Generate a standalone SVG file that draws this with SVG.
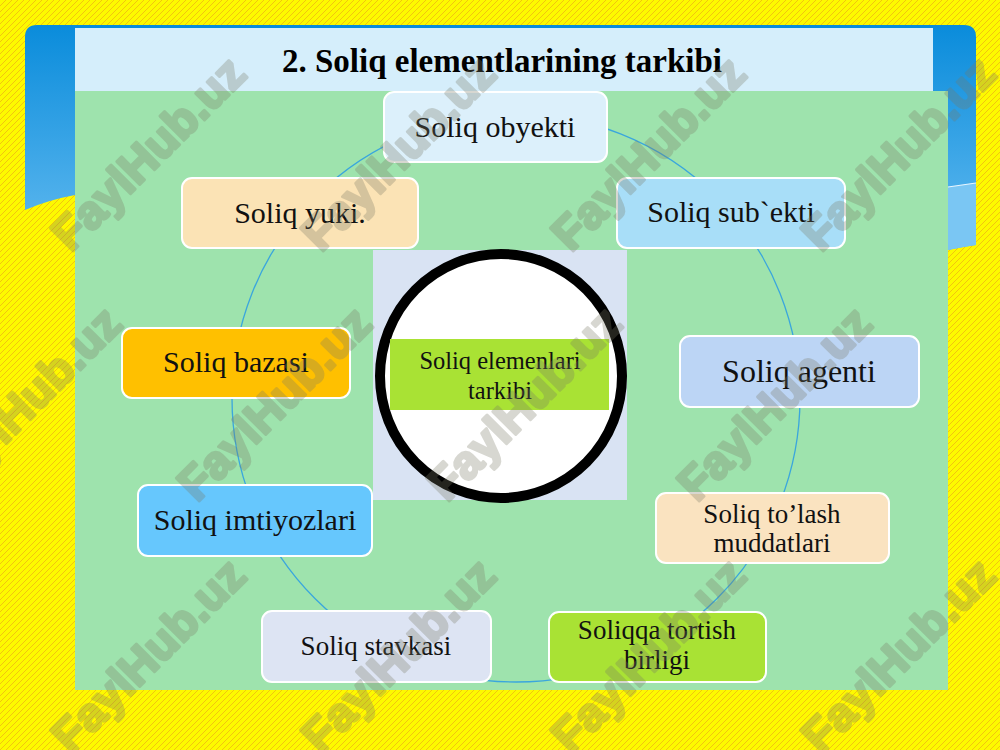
<svg xmlns="http://www.w3.org/2000/svg" width="1000" height="750" viewBox="0 0 1000 750">
<defs>
<pattern id="stripes" width="6" height="6" patternUnits="userSpaceOnUse">
<rect width="6" height="6" fill="#fdf900"/>
<path d="M-1,1 L1,-1 M0,6 L6,0 M5,7 L7,5" stroke="#e8901c" stroke-width="0.6" opacity="0.85"/>
</pattern>
<linearGradient id="blueGrad" x1="0" y1="0" x2="0" y2="1">
<stop offset="0" stop-color="#0a8cdb"/>
<stop offset="1" stop-color="#62baf0"/>
</linearGradient>
<style>
.node rect{stroke:#ffffff;stroke-width:2}
.lbl{font-family:"Liberation Serif","Times New Roman",serif;fill:#111111;text-anchor:middle}
.wm{font-family:"Liberation Sans",Arial,sans-serif;font-weight:bold;font-size:47px;fill:#7a7a66;stroke:#7a7a66;stroke-width:3;stroke-linejoin:round;text-anchor:middle;dominant-baseline:central}
</style>
</defs>

<!-- background -->
<rect x="0" y="0" width="1000" height="750" fill="url(#stripes)"/>

<!-- blue frame -->
<path d="M25,37 Q25,25 37,25 L964,25 Q976,25 976,37 L976,245 Q962,247 948,250 L948,91 L75,91 L75,195 Q48,200 25,210 Z" fill="url(#blueGrad)"/>
<path d="M948,187 Q962,185 976,183 L976,245 Q962,247 948,250 Z" fill="#7ac6f3"/>
<path d="M948,187 Q962,185 976,183" fill="none" stroke="#e8f6ff" stroke-width="1.2"/>

<!-- title band and panel -->
<rect x="75" y="28" width="858" height="63" fill="#d5eefb"/>
<rect x="75" y="91" width="873" height="599" fill="#9ee3ad"/>
<text x="502" y="72" style="font-family:'Liberation Serif','Times New Roman',serif;font-weight:bold;font-size:33px;fill:#000000;text-anchor:middle">2. Soliq elementlarining tarkibi</text>

<!-- connectors -->
<g id="connectors">
<circle cx="516" cy="398" r="284" fill="none" stroke="#3aa6dd" stroke-width="1.3"/>
</g>

<!-- center -->
<g id="center">
<rect x="373" y="250" width="254" height="250" fill="#d9e3f3"/>
<ellipse cx="501" cy="376" rx="121" ry="122" fill="#ffffff" stroke="#000000" stroke-width="10"/>
<rect x="390" y="339" width="219" height="71" fill="#a9e234"/>
<text class="lbl" x="500" y="369" font-size="24.5">Soliq elemenlari</text>
<text class="lbl" x="500" y="399" font-size="24.5">tarkibi</text>
</g>

<g id="n-obyekti" class="node">
<rect x="384" y="92" width="223" height="70" rx="10" fill="#dcf0fb"/>
<text class="lbl" x="495" y="137" font-size="30">Soliq obyekti</text>
</g>
<g id="n-subekti" class="node">
<rect x="617" y="178" width="228" height="70" rx="10" fill="#a8def8"/>
<text class="lbl" x="731" y="222" font-size="30">Soliq sub`ekti</text>
</g>
<g id="n-agenti" class="node">
<rect x="680" y="336" width="239" height="71" rx="10" fill="#bcd5f5"/>
<text class="lbl" x="799" y="382" font-size="32">Soliq agenti</text>
</g>
<g id="n-tolash" class="node">
<rect x="656" y="493" width="233" height="70" rx="10" fill="#fae3c0"/>
<text class="lbl" x="772" y="523" font-size="27">Soliq to’lash</text>
<text class="lbl" x="772" y="552" font-size="27">muddatlari</text>
</g>
<g id="n-birligi" class="node">
<rect x="549" y="612" width="217" height="70" rx="10" fill="#a9e234"/>
<text class="lbl" x="657" y="639" font-size="27">Soliqqa tortish</text>
<text class="lbl" x="657" y="669" font-size="27">birligi</text>
</g>
<g id="n-stavkasi" class="node">
<rect x="262" y="611" width="229" height="71" rx="10" fill="#dde4f3"/>
<text class="lbl" x="376" y="655" font-size="27">Soliq stavkasi</text>
</g>
<g id="n-imtiyozlari" class="node">
<rect x="138" y="485" width="234" height="71" rx="10" fill="#66c7fd"/>
<text class="lbl" x="255" y="530" font-size="30">Soliq imtiyozlari</text>
</g>
<g id="n-bazasi" class="node">
<rect x="122" y="328" width="228" height="70" rx="10" fill="#ffc000"/>
<text class="lbl" x="236" y="372" font-size="30">Soliq bazasi</text>
</g>
<g id="n-yuki" class="node">
<rect x="182" y="178" width="236" height="70" rx="10" fill="#fbe3b5"/>
<text class="lbl" x="300" y="223" font-size="30">Soliq yuki.</text>
</g>

<!-- watermarks -->
<g id="watermarks" opacity="0.3">
<text class="wm" transform="translate(148,153) rotate(-45)">FaylHub.uz</text>
<text class="wm" transform="translate(398,153) rotate(-45)">FaylHub.uz</text>
<text class="wm" transform="translate(648,153) rotate(-45)">FaylHub.uz</text>
<text class="wm" transform="translate(898,153) rotate(-45)">FaylHub.uz</text>
<text class="wm" transform="translate(24,403) rotate(-45)">FaylHub.uz</text>
<text class="wm" transform="translate(274,403) rotate(-45)">FaylHub.uz</text>
<text class="wm" transform="translate(524,403) rotate(-45)">FaylHub.uz</text>
<text class="wm" transform="translate(774,403) rotate(-45)">FaylHub.uz</text>
<text class="wm" transform="translate(148,655) rotate(-45)">FaylHub.uz</text>
<text class="wm" transform="translate(398,655) rotate(-45)">FaylHub.uz</text>
<text class="wm" transform="translate(648,655) rotate(-45)">FaylHub.uz</text>
<text class="wm" transform="translate(898,655) rotate(-45)">FaylHub.uz</text>
</g>
</svg>
